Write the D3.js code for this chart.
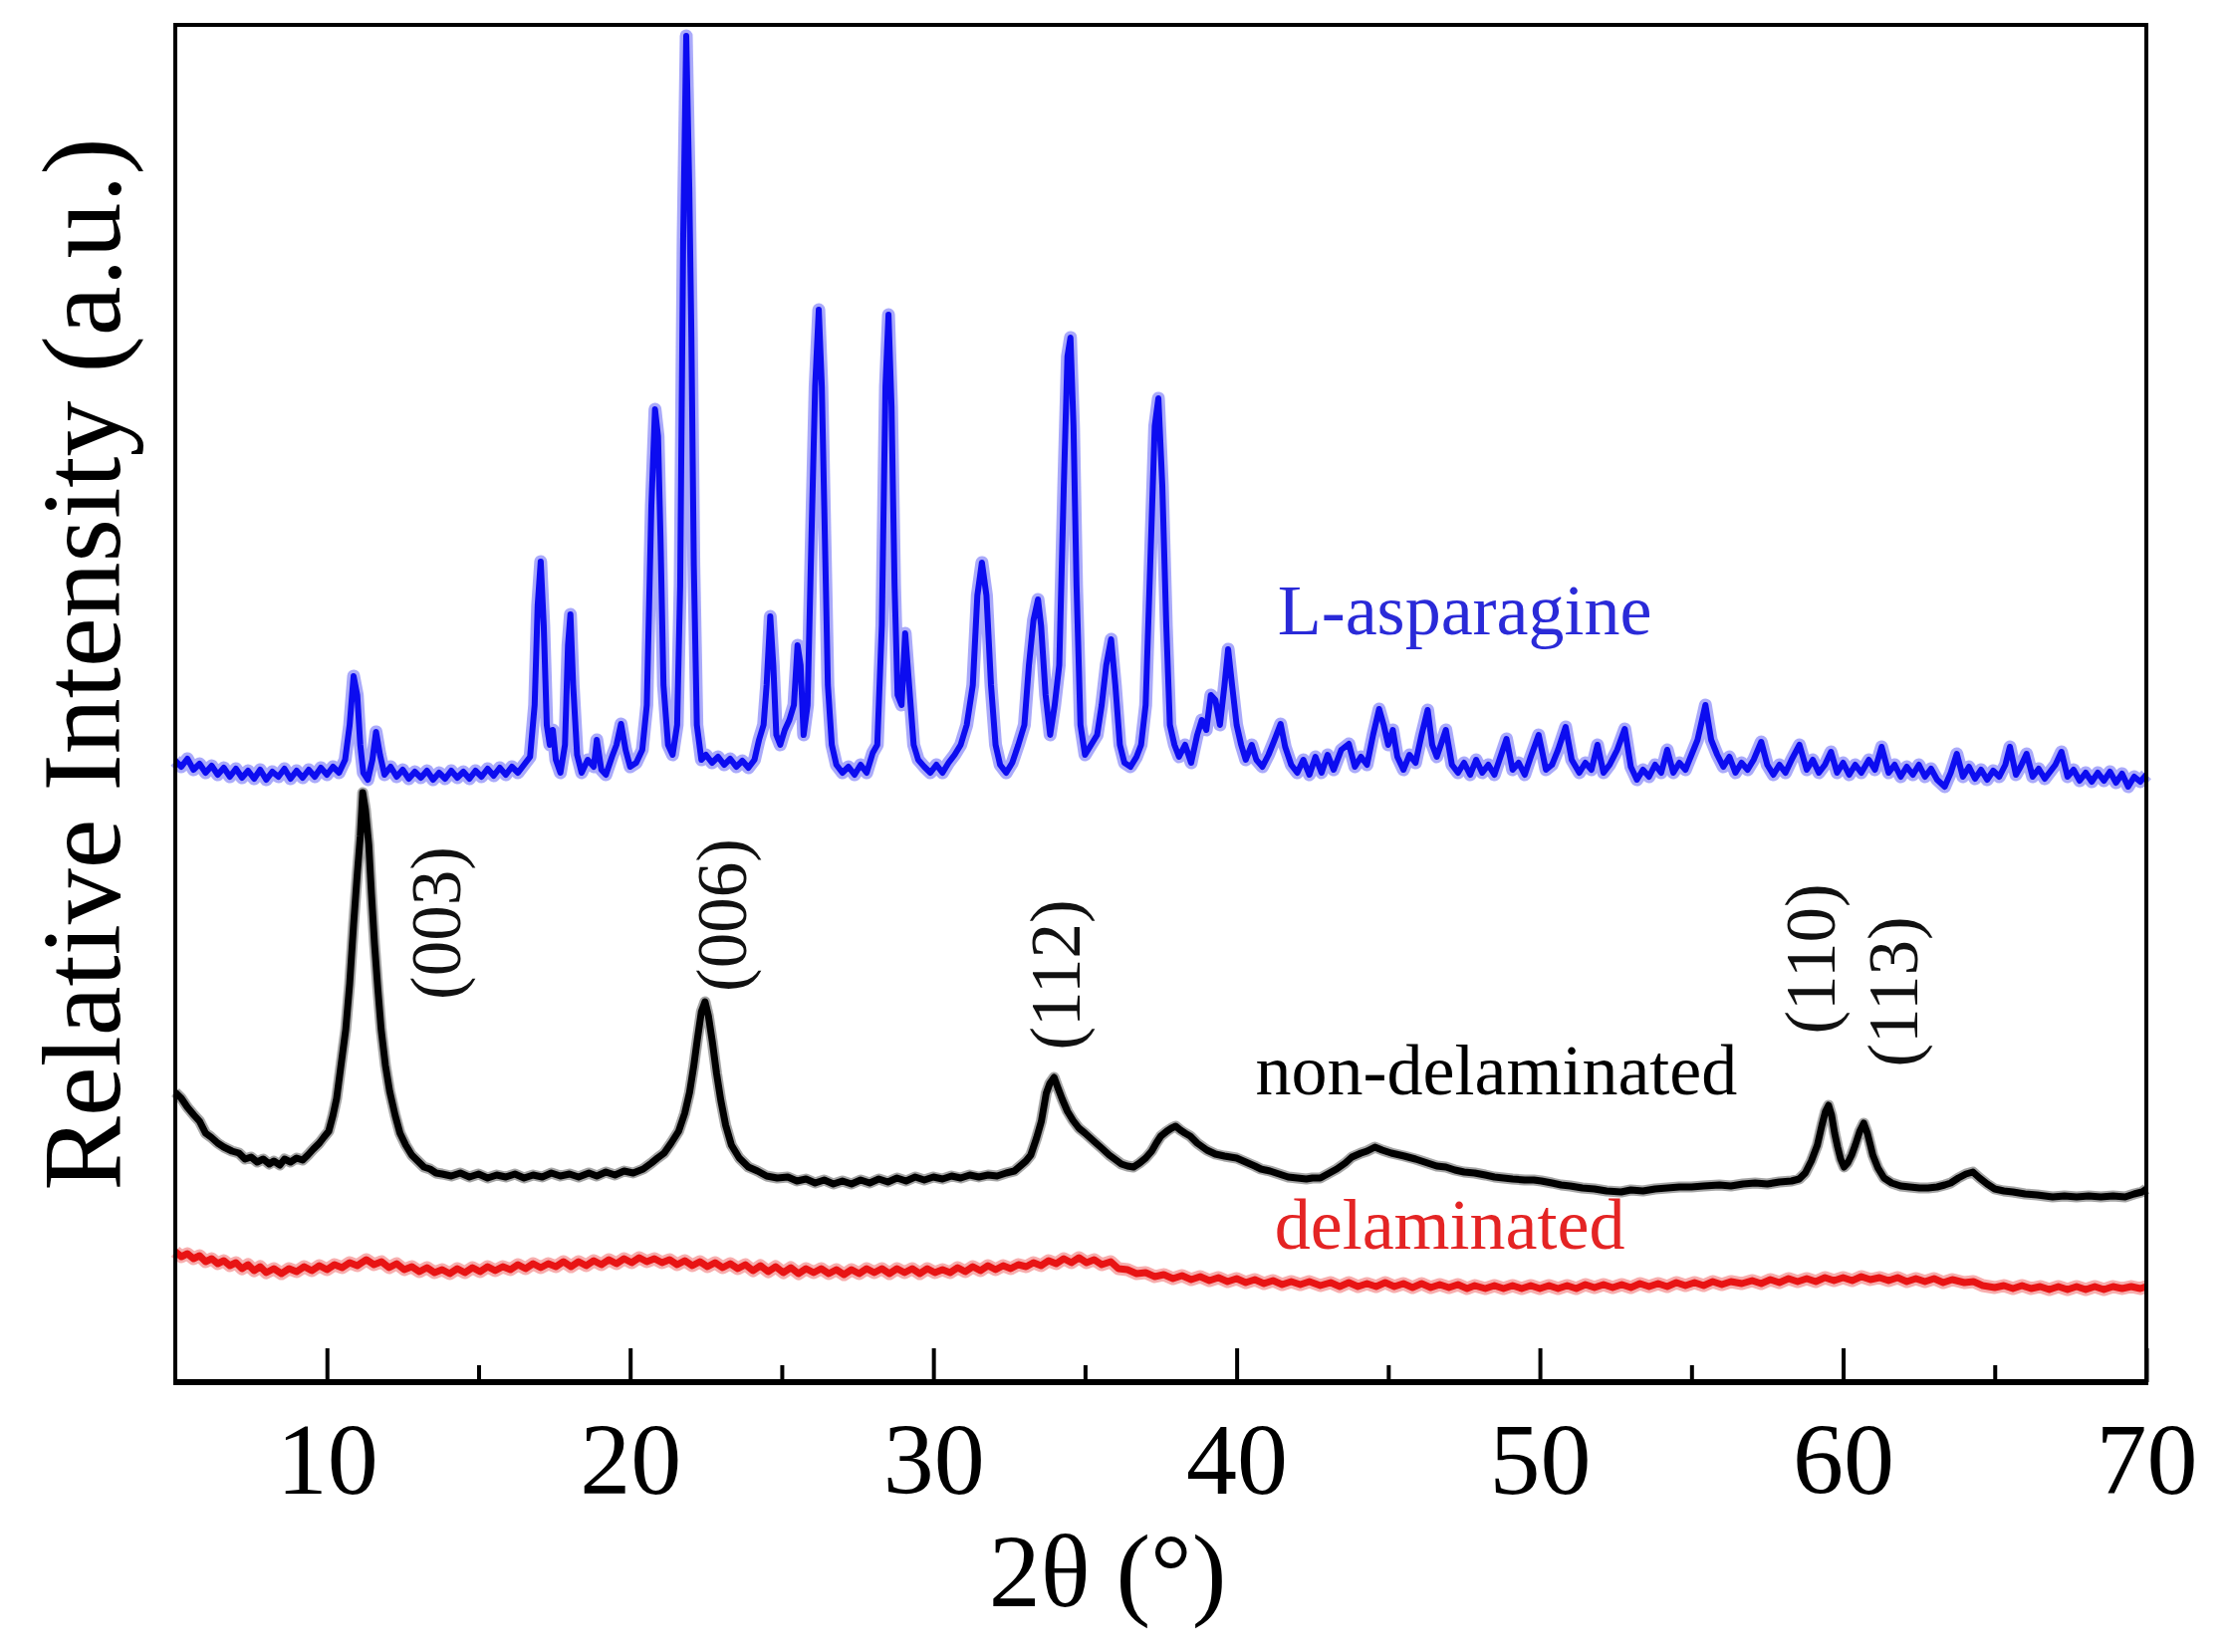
<!DOCTYPE html>
<html lang="en">
	<head>
		<meta charset="utf-8">
		<title>XRD patterns</title>
		<script type="text/javascript" src="https://d3js.org/d3.v7.min.js"></script>
		<style type="text/css">
			body {
				margin: 0;
				background: #ffffff;
			}
			text {
				font-family: "Liberation Serif", "Times New Roman", serif;
			}
		</style>
	</head>
	<body>
		<script type="text/javascript">
			//2theta tick values
			var majorTicks = [10, 20, 30, 40, 50, 60, 70];
			var minorTicks = [15, 25, 35, 45, 55, 65];

			//L-asparagine [2theta, intensity]
			var asparagine = [[5.0,624],[5.2,618],[5.4,626],[5.6,615],[5.8,621],[6.0,612],[6.2,619],[6.4,610],[6.6,617],[6.8,608],
				[7.0,616],[7.2,607],[7.4,614],[7.6,606],[7.8,615],[8.0,605],[8.2,613],[8.4,608],[8.6,616],[8.8,606],
				[9.0,614],[9.2,607],[9.4,615],[9.6,608],[9.8,617],[10.0,610],[10.2,618],[10.4,612],[10.6,625],[10.75,660],
				[10.88,709],[11.0,690],[11.1,640],[11.2,612],[11.35,605],[11.5,625],[11.62,653],[11.75,630],[11.9,610],[12.1,618],
				[12.3,608],[12.5,615],[12.7,606],[12.9,613],[13.1,607],[13.3,614],[13.5,605],[13.7,612],[13.9,606],[14.1,614],
				[14.3,607],[14.5,613],[14.7,606],[14.9,614],[15.1,608],[15.3,616],[15.5,609],[15.7,617],[15.9,610],[16.1,618],
				[16.3,612],[16.5,620],[16.7,628],[16.85,680],[16.95,780],[17.05,824],[17.15,760],[17.25,660],[17.35,640],[17.45,655],
				[17.55,625],[17.7,612],[17.85,640],[17.95,740],[18.03,771],[18.12,700],[18.25,630],[18.4,612],[18.6,625],[18.8,618],
				[18.9,645],[19.05,615],[19.2,610],[19.4,628],[19.55,640],[19.7,661],[19.85,635],[20.0,618],[20.2,622],[20.4,635],
				[20.55,680],[20.7,880],[20.82,977],[20.92,950],[21.0,850],[21.1,700],[21.25,640],[21.4,630],[21.55,660],[21.65,800],
				[21.75,1150],[21.85,1352],[21.95,1200],[22.02,1050],[22.1,820],[22.2,660],[22.35,625],[22.5,630],[22.7,622],[22.9,628],
				[23.1,620],[23.3,626],[23.5,618],[23.7,624],[23.9,617],[24.1,625],[24.25,645],[24.4,660],[24.5,700],[24.62,769],
				[24.72,720],[24.82,650],[24.95,640],[25.1,655],[25.25,665],[25.4,680],[25.52,740],[25.62,720],[25.72,650],[25.85,680],
				[25.98,850],[26.1,1000],[26.22,1077],[26.32,1000],[26.42,850],[26.52,700],[26.65,640],[26.8,620],[27.0,612],[27.2,618],
				[27.4,610],[27.6,620],[27.8,612],[28.0,632],[28.15,640],[28.3,760],[28.42,1000],[28.52,1072],[28.62,980],[28.72,800],
				[28.82,690],[28.95,680],[29.07,752],[29.2,700],[29.35,640],[29.5,625],[29.7,618],[29.9,612],[30.1,620],[30.3,612],
				[30.5,622],[30.7,630],[30.9,640],[31.1,660],[31.3,700],[31.45,790],[31.6,823],[31.75,790],[31.9,700],[32.05,640],
				[32.2,620],[32.4,612],[32.6,622],[32.8,640],[33.0,660],[33.15,720],[33.3,765],[33.45,786],[33.55,760],[33.7,690],
				[33.85,650],[34.0,680],[34.15,720],[34.3,900],[34.42,1030],[34.52,1049],[34.62,960],[34.72,800],[34.85,660],[35.0,630],
				[35.2,640],[35.4,650],[35.55,680],[35.7,720],[35.86,746],[36.0,700],[36.15,640],[36.3,622],[36.5,618],[36.7,628],
				[36.85,640],[37.0,680],[37.15,820],[37.3,960],[37.42,988],[37.55,900],[37.68,760],[37.8,660],[37.95,640],[38.1,628],
				[38.3,640],[38.5,622],[38.7,650],[38.85,665],[39.0,655],[39.15,690],[39.3,685],[39.45,660],[39.6,700],[39.72,736],
				[39.85,700],[40.0,660],[40.15,640],[40.3,625],[40.5,640],[40.65,625],[40.85,618],[41.05,630],[41.25,645],[41.45,661],
				[41.6,638],[41.8,620],[42.0,612],[42.2,625],[42.4,610],[42.6,628],[42.8,612],[43.0,630],[43.2,615],[43.45,635],
				[43.7,641],[43.9,618],[44.1,628],[44.3,620],[44.5,650],[44.7,676],[44.85,660],[45.0,640],[45.15,655],[45.3,628],
				[45.5,615],[45.7,630],[45.9,622],[46.1,650],[46.3,675],[46.45,640],[46.6,628],[46.9,655],[47.1,620],[47.3,612],
				[47.5,622],[47.7,610],[47.9,625],[48.1,612],[48.3,620],[48.5,610],[48.7,628],[48.9,646],[49.1,615],[49.3,622],
				[49.5,610],[49.7,628],[49.96,650],[50.2,615],[50.4,620],[50.6,635],[50.85,658],[51.05,625],[51.3,612],[51.5,622],
				[51.7,615],[51.9,640],[52.1,612],[52.3,620],[52.55,635],[52.8,656],[53.0,618],[53.2,605],[53.4,615],[53.6,608],
				[53.8,620],[54.0,612],[54.2,635],[54.4,612],[54.6,622],[54.8,615],[55.0,630],[55.2,645],[55.46,680],[55.65,645],
				[55.85,630],[56.05,618],[56.25,628],[56.45,612],[56.65,622],[56.85,615],[57.05,625],[57.3,643],[57.5,620],[57.7,610],
				[57.9,620],[58.1,612],[58.3,625],[58.56,640],[58.8,615],[59.0,625],[59.2,612],[59.4,620],[59.6,633],[59.8,612],
				[60.0,622],[60.2,610],[60.4,620],[60.6,612],[60.85,625],[61.05,615],[61.27,638],[61.5,612],[61.7,620],[61.9,608],
				[62.1,618],[62.3,610],[62.5,620],[62.7,608],[62.9,616],[63.1,605],[63.35,598],[63.55,612],[63.75,631],[63.95,608],
				[64.15,618],[64.35,606],[64.55,615],[64.75,605],[64.95,614],[65.15,608],[65.35,620],[65.5,638],[65.7,610],[65.85,618],
				[66.05,631],[66.25,608],[66.45,616],[66.65,606],[66.85,614],[67.0,620],[67.2,633],[67.4,608],[67.6,615],[67.8,604],
				[68.0,612],[68.2,603],[68.4,612],[68.6,604],[68.8,613],[69.0,602],[69.2,611],[69.4,598],[69.6,608],[69.8,603],[70.0,610]];

			//non-delaminated LDH
			var nonDelaminated = [[5.0,291],[5.2,285],[5.4,276],[5.62,268],[5.8,262],[6.0,250],[6.18,246],[6.4,240],[6.6,236],[6.87,232],
				[7.1,230],[7.3,224],[7.5,226],[7.7,221],[7.9,224],[8.1,219],[8.25,222],[8.45,218],[8.6,224],[8.8,221],
				[9.0,225],[9.2,223],[9.37,228],[9.55,234],[9.75,240],[9.9,246],[10.06,252],[10.2,268],[10.32,285],[10.45,315],
				[10.62,354],[10.75,400],[10.88,460],[11.0,510],[11.1,548],[11.18,592],[11.27,575],[11.38,540],[11.47,490],[11.57,440],
				[11.68,395],[11.79,354],[11.93,318],[12.07,292],[12.25,268],[12.41,250],[12.6,238],[12.8,228],[13.0,222],[13.2,216],
				[13.4,214],[13.6,210],[13.8,209],[14.1,207],[14.4,210],[14.7,206],[15.0,209],[15.3,205],[15.6,208],[15.9,206],
				[16.2,209],[16.5,205],[16.8,208],[17.1,206],[17.4,210],[17.7,207],[18.0,209],[18.3,206],[18.64,210],[18.9,207],
				[19.2,211],[19.5,208],[19.8,212],[20.1,210],[20.43,214],[20.7,220],[20.9,225],[21.12,230],[21.35,240],[21.6,252],
				[21.8,270],[21.96,291],[22.1,318],[22.22,345],[22.35,372],[22.47,382],[22.58,368],[22.71,342],[22.85,310],[22.99,283],
				[23.15,258],[23.34,238],[23.6,225],[23.9,216],[24.2,212],[24.5,207],[24.85,205],[25.2,206],[25.5,202],[25.8,204],
				[26.1,200],[26.4,203],[26.7,199],[27.0,202],[27.3,199],[27.6,203],[27.9,200],[28.2,204],[28.5,201],[28.8,205],
				[29.1,202],[29.4,206],[29.7,203],[30.0,206],[30.3,204],[30.6,207],[30.9,205],[31.2,208],[31.5,206],[31.8,208],
				[32.1,207],[32.4,210],[32.67,212],[32.9,218],[33.05,222],[33.21,228],[33.4,245],[33.56,262],[33.72,290],[33.84,300],
				[33.98,306],[34.1,296],[34.25,284],[34.42,272],[34.6,263],[34.8,255],[35.0,250],[35.29,242],[35.55,235],[35.8,228],
				[35.98,224],[36.2,219],[36.4,217],[36.6,216],[36.8,220],[37.0,225],[37.2,232],[37.35,240],[37.5,247],[37.7,252],
				[37.85,255],[37.99,257],[38.15,253],[38.3,250],[38.47,247],[38.7,240],[39.02,233],[39.3,229],[39.6,227],[40.0,225],
				[40.3,221],[40.6,217],[40.8,214],[41.1,212],[41.4,209],[41.7,206],[42.0,205],[42.3,204],[42.5,205],[42.76,205],
				[43.0,209],[43.3,214],[43.58,220],[43.8,226],[44.1,230],[44.3,232],[44.56,236],[44.8,233],[45.1,230],[45.53,227],
				[45.9,224],[46.3,220],[46.6,217],[46.9,216],[47.2,213],[47.5,211],[47.85,210],[48.2,208],[48.5,206],[48.8,205],
				[49.1,204],[49.5,203],[49.8,203],[50.05,202],[50.4,200],[50.7,198],[51.0,197],[51.4,195],[51.8,194],[52.2,192],
				[52.68,191],[53.0,193],[53.4,192],[53.8,194],[54.2,195],[54.6,196],[55.0,196],[55.4,197],[55.92,198],[56.3,197],
				[56.7,199],[57.1,200],[57.5,199],[57.9,201],[58.3,202],[58.55,204],[58.75,210],[58.95,222],[59.15,238],[59.3,258],
				[59.42,272],[59.52,278],[59.62,268],[59.72,250],[59.82,236],[59.92,224],[60.03,216],[60.15,220],[60.28,228],[60.4,238],
				[60.55,252],[60.68,260],[60.8,250],[60.9,238],[60.98,228],[61.15,215],[61.35,205],[61.6,200],[61.9,197],[62.2,196],
				[62.52,195],[62.8,195],[63.1,196],[63.35,198],[63.55,200],[63.8,205],[64.05,209],[64.28,211],[64.5,205],[64.75,199],
				[65.0,194],[65.3,192],[65.6,191],[66.0,189],[66.4,188],[66.91,186],[67.3,187],[67.7,186],[68.1,187],[68.5,186],
				[68.9,187],[69.3,186],[69.6,189],[69.86,191],[70.0,194]];

			//delaminated LDH
			var delaminated = [[5.0,131],[5.2,126],[5.4,129],[5.6,124],[5.8,127],[6.0,121],[6.2,124],[6.4,119],[6.6,122],[6.8,117],
				[7.0,120],[7.2,114],[7.4,118],[7.6,112],[7.8,116],[8.0,110],[8.25,114],[8.5,109],[8.75,114],[9.0,111],
				[9.25,116],[9.5,112],[9.75,117],[10.0,113],[10.25,118],[10.5,115],[10.75,120],[11.0,117],[11.3,123],[11.55,118],
				[11.8,121],[12.05,115],[12.3,119],[12.55,113],[12.8,116],[13.05,111],[13.3,115],[13.55,110],[13.8,113],[14.05,109],
				[14.3,114],[14.55,110],[14.8,115],[15.05,111],[15.3,116],[15.55,112],[15.8,116],[16.05,113],[16.3,118],[16.55,114],
				[16.8,119],[17.05,115],[17.3,119],[17.55,116],[17.8,121],[18.05,116],[18.3,121],[18.55,117],[18.8,122],[19.05,118],
				[19.3,123],[19.55,119],[19.8,124],[20.05,120],[20.3,125],[20.55,121],[20.8,124],[21.05,120],[21.3,123],[21.55,118],
				[21.8,122],[22.05,117],[22.3,121],[22.55,116],[22.8,120],[23.05,115],[23.3,119],[23.55,114],[23.8,118],[24.05,112],
				[24.3,117],[24.55,111],[24.8,116],[25.05,110],[25.3,115],[25.55,109],[25.8,114],[26.05,110],[26.3,114],[26.55,109],
				[26.8,113],[27.05,108],[27.3,113],[27.55,109],[27.8,114],[28.05,110],[28.3,114],[28.55,109],[28.8,114],[29.05,110],
				[29.3,114],[29.55,109],[29.8,114],[30.05,110],[30.3,113],[30.55,110],[30.8,115],[31.05,111],[31.3,116],[31.55,112],
				[31.8,117],[32.05,113],[32.3,117],[32.55,114],[32.8,118],[33.06,116],[33.3,120],[33.55,117],[33.8,122],[34.05,119],
				[34.3,124],[34.55,120],[34.8,125],[35.05,120],[35.3,123],[35.55,118],[35.85,121],[36.1,114],[36.4,113],[36.7,109],
				[37.0,110],[37.3,106],[37.6,108],[37.9,104],[38.2,107],[38.5,103],[38.8,106],[39.1,102],[39.4,105],[39.7,101],
				[40.0,104],[40.3,100],[40.6,103],[40.9,99],[41.2,102],[41.5,98],[41.8,101],[42.1,98],[42.4,101],[42.76,97],
				[43.1,100],[43.4,96],[43.7,100],[44.0,96],[44.3,99],[44.6,96],[44.9,100],[45.2,96],[45.5,99],[45.8,95],
				[46.1,99],[46.4,95],[46.7,98],[47.0,95],[47.3,98],[47.6,94],[47.85,97],[48.2,94],[48.5,97],[48.8,94],
				[49.1,97],[49.4,94],[49.7,97],[50.0,94],[50.3,97],[50.6,94],[50.9,97],[51.2,94],[51.5,98],[51.8,95],
				[52.1,98],[52.4,95],[52.7,98],[53.0,95],[53.3,99],[53.6,96],[53.9,99],[54.2,96],[54.5,100],[54.8,97],
				[55.1,100],[55.4,97],[55.7,101],[56.0,98],[56.3,101],[56.66,99],[57.0,102],[57.3,99],[57.6,103],[57.9,100],
				[58.2,104],[58.5,101],[58.8,104],[59.1,101],[59.4,105],[59.7,102],[60.0,105],[60.3,102],[60.6,106],[60.9,103],
				[61.2,105],[61.5,102],[61.8,105],[62.1,101],[62.4,104],[62.7,101],[63.0,104],[63.3,100],[63.6,103],[64.0,100],
				[64.3,101],[64.6,97],[65.0,95],[65.3,97],[65.6,94],[65.9,97],[66.2,94],[66.5,96],[66.8,93],[67.1,96],
				[67.4,93],[67.7,96],[68.0,93],[68.3,96],[68.6,93],[68.9,96],[69.2,94],[69.5,96],[69.8,94],[70.0,96]];

			//reflection labels and the peak they belong to (2theta, intensity)
			var reflections = ["(003)", "(006)", "(112)", "(110)", "(113)"];
			var reflectionAt = [[14.40, 461], [23.82, 469], [34.81, 409], [59.73, 425], [62.44, 392]];

			var seriesNames = ["L-asparagine", "non-delaminated", "delaminated"];
			var seriesLabelAt = [[41.35, 751], [40.62, 289], [41.25, 134]];

			var w = 2241;
			var h = 1659;
			var plotLeft = 176, plotRight = 2155, plotTop = 25, plotBottom = 1388;

			var svg = d3.select("body")
						.append("svg")
						.attr("width", w)
						.attr("height", h);

			var x = d3.scaleLinear().domain([5, 70]).range([plotLeft, plotRight]);
			var y = d3.scaleLinear().domain([0, 1363]).range([plotBottom, plotTop]);

			var line = d3.line()
						 .x(function(d) { return x(d[0]); })
						 .y(function(d) { return y(d[1]); });

			//halo is the fuzzy noise band of the scanned trace, core is the line itself
			var traces = [
				{ data: delaminated, color: "#e81414", width: 7, halo: 13 },
				{ data: nonDelaminated, color: "#000000", width: 7, halo: 11 },
				{ data: asparagine, color: "#0c0cf0", width: 6, halo: 13 }
			];

			var traceGroups = svg.selectAll("g.trace")
								 .data(traces)
								 .enter()
								 .append("g")
								 .attr("class", "trace");

			traceGroups.append("path")
					   .attr("d", function(d) { return line(d.data); })
					   .attr("fill", "none")
					   .attr("stroke", function(d) { return d.color; })
					   .attr("stroke-opacity", 0.35)
					   .attr("stroke-width", function(d) { return d.halo; })
					   .attr("stroke-linejoin", "round");

			traceGroups.append("path")
					   .attr("d", function(d) { return line(d.data); })
					   .attr("fill", "none")
					   .attr("stroke", function(d) { return d.color; })
					   .attr("stroke-width", function(d) { return d.width; })
					   .attr("stroke-linejoin", "round");

			//ticks point inward
			var majorAxis = d3.axisBottom(x)
							  .tickValues(majorTicks)
							  .tickSizeInner(-34)
							  .tickSizeOuter(0)
							  .tickPadding(40)
							  .tickFormat(d3.format("d"));
			var minorAxis = d3.axisBottom(x)
							  .tickValues(minorTicks)
							  .tickSizeInner(-17)
							  .tickSizeOuter(0)
							  .tickFormat("");

			var gMajor = svg.append("g")
							.attr("transform", "translate(0," + plotBottom + ")")
							.call(majorAxis);
			var gMinor = svg.append("g")
							.attr("transform", "translate(0," + plotBottom + ")")
							.call(minorAxis);

			svg.selectAll(".domain").remove();
			svg.selectAll(".tick line")
			   .attr("stroke", "#000")
			   .attr("stroke-width", 4);
			gMajor.selectAll(".tick text")
				  .attr("font-family", "Liberation Serif, Times New Roman, serif")
				  .attr("font-size", 102)
				  .attr("fill", "#000");

			//frame
			svg.append("rect")
			   .attr("x", plotLeft)
			   .attr("y", plotTop)
			   .attr("width", plotRight - plotLeft)
			   .attr("height", plotBottom - plotTop)
			   .attr("fill", "none")
			   .attr("stroke", "#000")
			   .attr("stroke-width", 4);
			svg.append("line")
			   .attr("x1", plotLeft - 2)
			   .attr("x2", plotRight + 2)
			   .attr("y1", plotBottom)
			   .attr("y2", plotBottom)
			   .attr("stroke", "#000")
			   .attr("stroke-width", 6);

			//axis titles
			svg.append("text")
			   .attr("x", 1112)
			   .attr("y", 1613)
			   .attr("text-anchor", "middle")
			   .attr("font-size", 104)
			   .attr("fill", "#000")
			   .text("2θ (°)");

			svg.append("text")
			   .attr("transform", "translate(120,667) rotate(-90)")
			   .attr("text-anchor", "middle")
			   .attr("font-size", 112)
			   .attr("fill", "#000")
			   .text("Relative Intensity (a.u.)");

			//reflection labels
			svg.selectAll("text.hkl")
			   .data(reflections)
			   .enter()
			   .append("text")
			   .attr("class", "hkl")
			   .attr("transform", function(d, i) {
			   		return "translate(" + x(reflectionAt[i][0]) + "," + y(reflectionAt[i][1]) + ") rotate(-90)";
			   })
			   .attr("text-anchor", "middle")
			   .attr("font-size", 71)
			   .attr("fill", "#111")
			   .text(function(d) { return d; });

			var labelColors = ["#2a2ad8", "#000000", "#e42424"];
			svg.selectAll("text.series")
			   .data(seriesNames)
			   .enter()
			   .append("text")
			   .attr("class", "series")
			   .attr("x", function(d, i) { return x(seriesLabelAt[i][0]); })
			   .attr("y", function(d, i) { return y(seriesLabelAt[i][1]); })
			   .attr("font-size", 72)
			   .attr("fill", function(d, i) { return labelColors[i]; })
			   .text(function(d) { return d; });
		</script>
	</body>
</html>
